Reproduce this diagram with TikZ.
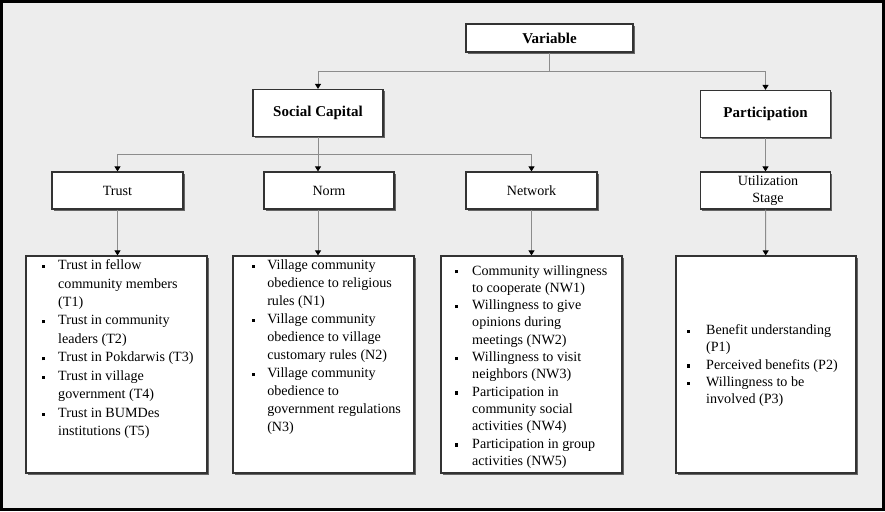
\documentclass[tikz,border=0pt]{standalone}
\usepackage{fontspec}
\setmainfont{Liberation Serif}
\usetikzlibrary{arrows.meta,shadows}
\definecolor{bggray}{HTML}{EDEDED}
\newcommand{\bul}{\rule[1.6pt]{3.2pt}{3.2pt}}
\newcommand{\itemlist}[3]{{\renewcommand{\arraystretch}{#2}\begin{tabular}[t]{@{}l@{\hspace{#1}}l@{}}#3\end{tabular}}}

\begin{document}
\begin{tikzpicture}[x=1pt,y=-1pt,
    box/.style={draw=black!80,line width=1.2pt,fill=white,inner sep=0pt,
      minimum width=130pt,minimum height=37pt,align=center,
      drop shadow={shadow xshift=1.8pt,shadow yshift=-1.8pt,fill=black!60,opacity=1},
      font=\fontsize{14.1}{17.5}\selectfont},
    head/.style={box,minimum height=47pt,font=\fontsize{15}{18}\selectfont\bfseries},
    listbox/.style={box,minimum width=181pt,minimum height=217pt},
    listtext/.style={anchor=base west,inner sep=0pt,font=\fontsize{14.1}{17.5}\selectfont},
    conn/.style={draw=black!45,line width=0.9pt},
    arr/.style={conn,-{Triangle[length=5pt,width=6pt,black]}}]
  \fill[black] (0,0) rectangle (885,511);
  \fill[bggray] (3,3) rectangle (882,508);

  \node (var)   [head,minimum width=167pt,minimum height=28pt] at (549.5,38) {Variable};
  \node (soc)   [head] at (318,113)   {Social Capital};
  \node (part)  [head] at (765.5,114) {Participation};

  \node (trust) [box,minimum width=131pt] at (117.5,190.5) {Trust};
  \node (norm)  [box] at (329,190.5)   {Norm};
  \node (netw)  [box,minimum width=131pt] at (531.5,190.5) {Network};
  \node (util)  [box] at (765.5,190.5) {\hspace*{5pt}Utilization\\\hspace*{5pt}Stage};

  \node (trustl) [listbox] at (116.5,364.5) {};
  \node (norml)  [listbox] at (323.5,364.5) {};
  \node (netl)   [listbox] at (531.5,364.5) {};
  \node (utill)  [listbox,minimum width=180pt] at (766,364.5) {};

  \node (trustt) [listtext] at (41.4,269.5) {\itemlist{13.4pt}{1.057}{%
    \bul & Trust in fellow\\ & community members\\ & (T1)\\
    \bul & Trust in community\\ & leaders (T2)\\
    \bul & Trust in Pokdarwis (T3)\\
    \bul & Trust in village\\ & government (T4)\\
    \bul & Trust in BUMDes\\ & institutions (T5)}};
  \node (normt)  [listtext] at (251.4,269.5) {\itemlist{12.5pt}{1.03}{%
    \bul & Village community\\ & obedience to religious\\ & rules (N1)\\
    \bul & Village community\\ & obedience to village\\ & customary rules (N2)\\
    \bul & Village community\\ & obedience to\\ & government regulations\\ & (N3)}};
  \node (netlt)  [listtext] at (454.4,275) {\itemlist{14.4pt}{0.99}{%
    \bul & Community willingness\\ & to cooperate (NW1)\\
    \bul & Willingness to give\\ & opinions during\\ & meetings (NW2)\\
    \bul & Willingness to visit\\ & neighbors (NW3)\\
    \bul & Participation in\\ & community social\\ & activities (NW4)\\
    \bul & Participation in group\\ & activities (NW5)}};
  \node (utilt)  [listtext] at (686.4,334.5) {\itemlist{16.4pt}{0.99}{%
    \bul & Benefit understanding\\ & (P1)\\
    \bul & Perceived benefits (P2)\\
    \bul & Willingness to be\\ & involved (P3)}};

  \coordinate (s1) at (549.5,71);
  \coordinate (s2) at (318,154);
  \draw [conn] (var) -- (s1);
  \draw [arr]  (s1) -| (soc);
  \draw [arr]  (s1) -| (part);
  \draw [conn] (soc) -- (s2);
  \draw [arr]  (s2) -| (trust);
  \draw [arr]  (s2) -- (s2 |- norm.north);
  \draw [arr]  (s2) -| (netw);
  \draw [arr]  (part) -- (util);

  \draw [arr]  (trust) -- (trust |- trustl.north);
  \draw [arr]  (norm.south -| s2) -- (norml.north -| s2);
  \draw [arr]  (netw) -- (netl);
  \draw [arr]  (util) -- (utill);
\end{tikzpicture}
\end{document}
